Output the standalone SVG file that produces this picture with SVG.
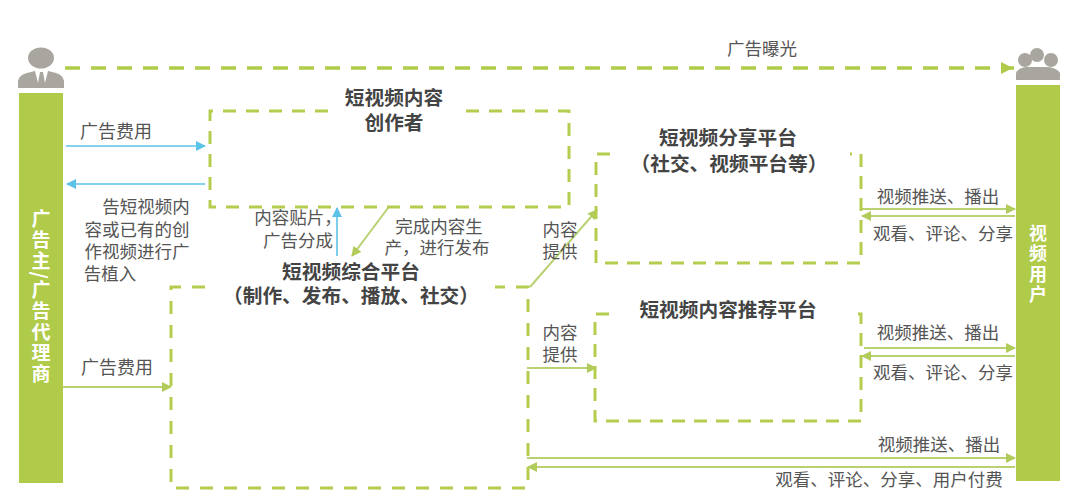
<svg xmlns="http://www.w3.org/2000/svg" width="1080" height="498" viewBox="0 0 1080 498">
<defs>
<marker id="ag" markerWidth="10" markerHeight="10" refX="9" refY="5" orient="auto" markerUnits="userSpaceOnUse"><path d="M0 0L10 5L0 10Z" fill="#b2cc5c"/></marker>
<marker id="agb" markerWidth="14" markerHeight="14" refX="13" refY="6" orient="auto" markerUnits="userSpaceOnUse"><path d="M0 0L12 6L0 12Z" fill="#afcb47"/></marker>
<marker id="ab" markerWidth="10" markerHeight="10" refX="9" refY="5" orient="auto" markerUnits="userSpaceOnUse"><path d="M0 0L10 5L0 10Z" fill="#5cc3e8"/></marker>
</defs>
<style>
text{font-family:"Noto Sans CJK SC","Liberation Sans",sans-serif;fill:#555;font-size:17.5px;text-anchor:middle}
.t{font-weight:700;font-size:19.700px;fill:#444}
.v{font-weight:700;font-size:19px;fill:#fff;writing-mode:vertical-rl}
.bar{fill:#b0ca4a}
.box{fill:none;stroke:#b4cd4e;stroke-width:3;stroke-dasharray:13 10}
.g{fill:none;stroke:#b9d170;stroke-width:2;marker-end:url(#ag)}
.b{fill:none;stroke:#5cc3e8;stroke-width:1.6;marker-end:url(#ab)}
.p{fill:#a9a69f}
</style>
<rect width="1080" height="498" fill="#fff"/>
<g id="connectors">
<path d="M65 68H1014" fill="none" stroke="#afcb47" stroke-width="3.500" stroke-dasharray="15 11" marker-end="url(#agb)"/>
<path class="b" d="M66 146H205"/>
<path class="b" d="M205 184H67"/>
<path class="b" d="M337 256V208"/>
<path class="g" d="M388 208L352 256"/>
<path class="g" d="M63 387H171"/>
<path class="g" d="M530 287L597 210"/>
<path class="g" d="M527 368H596"/>
<path class="g" d="M862 209H1015"/>
<path class="g" d="M1015 216H862"/>
<path class="g" d="M864 348H1015"/>
<path class="g" d="M1015 356H862"/>
<path class="g" d="M527 458H1015"/>
<path class="g" d="M1015 467H528"/>
</g>
<g id="advertiser">
<ellipse class="p" cx="41" cy="58" rx="13" ry="10.500"/>
<path class="p" d="M18 88V81Q19 75 27 73L35 71L38 83L40 72H43L45 83L48 71L56 73Q63 75 64 81V88Z"/>
<rect class="bar" x="19" y="93" width="44" height="390"/>
<text class="v" x="41" y="297" style="letter-spacing:1.800px">广告主/广告代理商</text>
</g>
<g id="users">
<circle class="p" cx="1025" cy="60" r="7"/><circle class="p" cx="1051" cy="60" r="7"/><circle class="p" cx="1037" cy="55" r="7"/>
<path class="p" d="M1016 80V73Q1018 68 1026 67H1048Q1057 68 1060 73V80Z"/>
<rect class="bar" x="1016" y="85" width="44" height="396"/>
<text class="v" x="1038" y="265" style="font-size:18px;letter-spacing:2.500px">视频用户</text>
</g>
<g id="creator">
<path class="box" d="M328 111H210V207H569V111H458"/>
<text class="t" x="394" y="105">短视频内容<tspan x="394" y="130">创作者</tspan></text>
</g>
<g id="composite">
<path class="box" d="M205 287H171V488H528V287H495" style="stroke-dasharray:13 11"/>
<text class="t" x="351" y="279">短视频综合平台<tspan x="351" y="303">（制作、发布、播放、社交）</tspan></text>
</g>
<g id="share">
<path class="box" d="M610 154H596V263H861V154H850" style="stroke-dasharray:13 9"/>
<text class="t" x="728" y="145">短视频分享平台<tspan x="729" y="171">（社交、视频平台等）</tspan></text>
</g>
<g id="recommend">
<path class="box" d="M609 314H595V421H861V314H850" style="stroke-dasharray:13 9"/>
<text class="t" x="728" y="317">短视频内容推荐平台</text>
</g>
<g id="labels">
<text x="116" y="138" style="font-size:18px">广告费用</text>
<text x="117" y="374" style="font-size:18px">广告费用</text>
<text x="762" y="55">广告曝光</text>
<text x="146" y="213">告短视频内<tspan x="137" y="236">容或已有的创</tspan><tspan x="137" y="258">作视频进行广</tspan><tspan x="110" y="280">告植入</tspan></text>
<text x="298" y="224">内容贴片，<tspan x="298" y="247">广告分成</tspan></text>
<text x="439" y="233">完成内容生<tspan x="437" y="254">产，进行发布</tspan></text>
<text x="560" y="236">内容<tspan x="560" y="258">提供</tspan></text>
<text x="560" y="339">内容<tspan x="560" y="361">提供</tspan></text>
<text x="938" y="203">视频推送、播出</text>
<text x="943" y="240">观看、评论、分享</text>
<text x="938" y="339">视频推送、播出</text>
<text x="943" y="379">观看、评论、分享</text>
<text x="939" y="451">视频推送、播出</text>
<text x="889" y="486">观看、评论、分享、用户付费</text>
</g>
</svg>
